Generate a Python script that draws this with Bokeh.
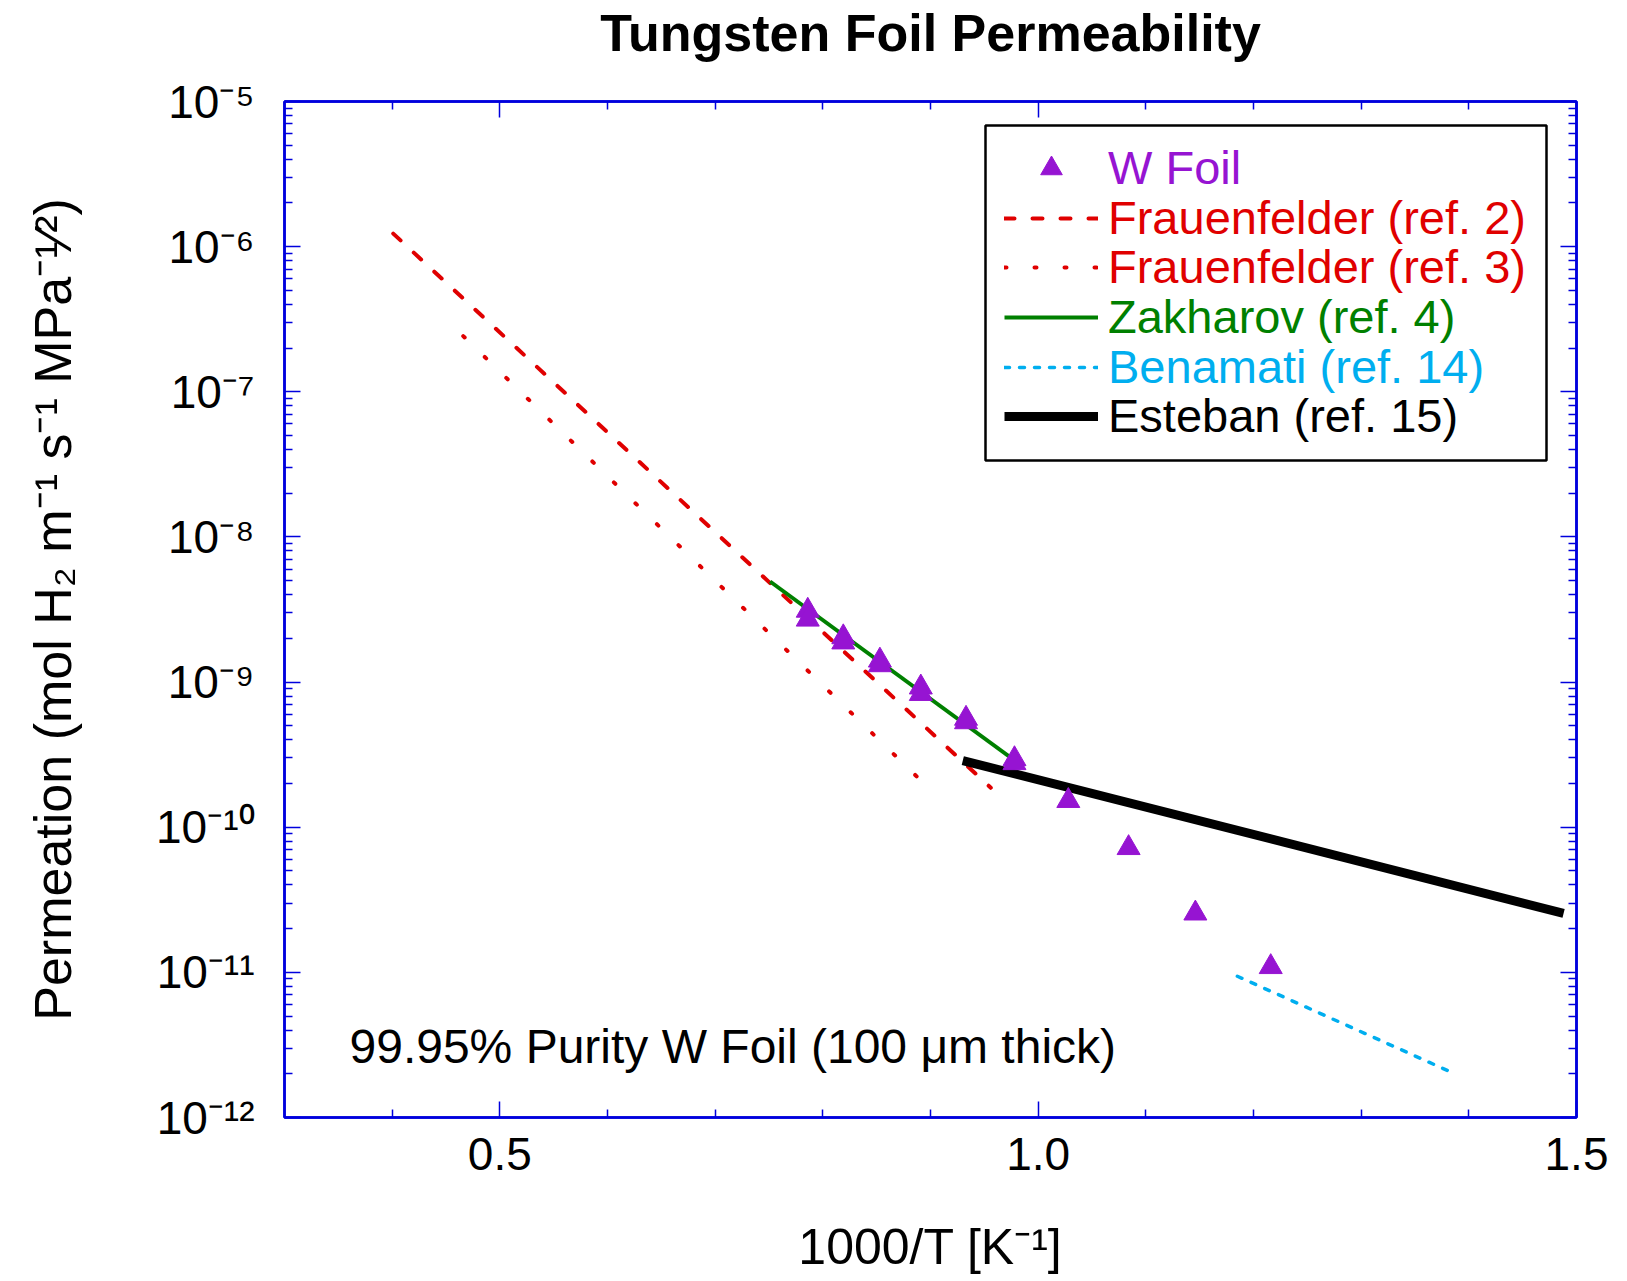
import math
from bokeh.plotting import figure
from bokeh.models import (Label, Legend, LegendItem, BoxAnnotation, FixedTicker,
                          LogAxis, LinearAxis, Range1d, CustomJSTickFormatter)
from bokeh.embed import file_html
from bokeh.resources import INLINE

# ---------------- data ----------------
wfoil_x = [0.786, 0.786, 0.819, 0.819, 0.853, 0.853, 0.891, 0.891, 0.933, 0.933,
           0.978, 0.978, 1.028, 1.084, 1.146, 1.216]
wfoil_y = [3.11e-9, 2.70e-9, 2.04e-9, 1.88e-9, 1.41e-9, 1.31e-9, 9.2e-10, 8.3e-10,
           5.6e-10, 5.3e-10, 2.95e-10, 2.77e-10, 1.52e-10, 7.2e-11, 2.55e-11, 1.09e-11]

frauen2_x = [0.401, 0.956]
frauen2_y = [1.23e-6, 1.87e-10]
frauen3_x = [0.466, 0.902]
frauen3_y = [2.42e-7, 1.75e-10]
zakharov_x = [0.751, 0.982]
zakharov_y = [4.93e-9, 2.75e-10]
benamati_x = [1.185, 1.387]
benamati_y = [9.4e-12, 2.0e-12]
esteban_x = [0.930, 1.488]
esteban_y = [2.88e-10, 2.55e-11]

x_major = [0.5, 1.0, 1.5]
x_major_labels = ["0.5", "1.0", "1.5"]
x_minor = [0.4, 0.6, 0.7, 0.8, 0.9, 1.1, 1.2, 1.3, 1.4]
y_major = [1e-12, 1e-11, 1e-10, 1e-9, 1e-8, 1e-7, 1e-6, 1e-5]
y_major_labels = ["10\u207b\u00b9\u00b2", "10\u207b\u00b9\u00b9", "10\u207b\u00b9\u2070",
                  "10\u207b\u2079", "10\u207b\u2078", "10\u207b\u2077", "10\u207b\u2076",
                  "10\u207b\u2075"]
y_minor = [m * d for d in y_major[:-1] for m in range(2, 10)]

title_text = "Tungsten Foil Permeability"
x_title = "1000/T [K\u207b\u00b9]"
y_title = "Permeation (mol H\u2082 m\u207b\u00b9 s\u207b\u00b9 MPa\u207b\u00b9\u2044\u00b2)"
note_text = "99.95% Purity W Foil (100 \u03bcm thick)"
legend_labels = ["W Foil", "Frauenfelder (ref. 2)", "Frauenfelder (ref. 3)",
                 "Zakharov (ref. 4)", "Benamati (ref. 14)", "Esteban (ref. 15)"]

# ---------------- layout ----------------
X0, X1 = 0.3, 1.5
E0, E1 = -12, -5
FW, FH = 1292, 1016
BL, BT, BR, BB = 284, 100, 40, 162
FL, FT = BL, BT
PXU = FW / (X1 - X0)
PXD = FH / (E1 - E0)

def dx(px):
    return X0 + (px - FL) / PXU

def dy(py):
    return 10 ** (E1 - (py - FT) / PXD)

FONT = "Liberation Sans"
BLUE = "#0000dd"
RED = "#e00000"
GREEN = "#008000"
CYAN = "#00aeef"
PURPLE = "#9614d2"

p = figure(x_range=Range1d(X0, X1), y_range=Range1d(y_major[0], y_major[-1]), y_axis_type="log",
           frame_width=FW, frame_height=FH, min_border_left=BL, min_border_right=BR,
           min_border_top=BT, min_border_bottom=BB, output_backend="svg",
           toolbar_location=None, background_fill_color="white", border_fill_color="white")
p.title = None
p.grid.visible = False
p.outline_line_color = BLUE
p.outline_line_width = 2.5

xt = FixedTicker(ticks=x_major, minor_ticks=x_minor)
yt = FixedTicker(ticks=y_major, minor_ticks=y_minor)

bottom_ax = p.below[0]
left_ax = p.left[0]
top_ax = LinearAxis()
right_ax = LogAxis()
p.add_layout(top_ax, "above")
p.add_layout(right_ax, "right")
blank = CustomJSTickFormatter(code="return '';")
for ax in (top_ax, right_ax):
    ax.formatter = blank
    ax.major_label_text_font_size = "1px"
bottom_ax.ticker = xt
top_ax.ticker = xt
left_ax.ticker = yt
right_ax.ticker = yt

for ax in (bottom_ax, left_ax, top_ax, right_ax):
    ax.axis_line_color = BLUE
    ax.axis_line_width = 2.5
    ax.major_tick_line_color = BLUE
    ax.minor_tick_line_color = BLUE
    ax.major_tick_line_width = 1.5
    ax.minor_tick_line_width = 1.5
    ax.major_tick_in = 16
    ax.major_tick_out = 0
    ax.minor_tick_in = 8
    ax.minor_tick_out = 0
    ax.major_label_standoff = 0
    ax.major_label_text_font = FONT
    ax.major_label_text_color = "black"
    ax.axis_label_text_font = FONT
    ax.axis_label_text_font_style = "normal"
    ax.axis_label_text_color = "black"

bottom_ax.major_label_overrides = dict(zip(x_major, x_major_labels))
bottom_ax.major_label_text_font_size = "46px"
bottom_ax.major_label_standoff = 20
bottom_ax.axis_label = x_title
bottom_ax.axis_label_text_font_size = "50px"
bottom_ax.axis_label_standoff = 46

left_ax.major_label_overrides = dict(zip(y_major, y_major_labels))
left_ax.major_label_text_font_size = "46px"
left_ax.major_label_standoff = 30
left_ax.axis_label = y_title
left_ax.axis_label_text_font_size = "52px"
left_ax.axis_label_standoff = 71

# chart title, carried by the top frame axis so it can sit close to the canvas edge
top_ax.axis_label = title_text
top_ax.axis_label_text_font_size = "52px"
top_ax.axis_label_text_font_style = "bold"
top_ax.axis_label_standoff = 40

# ---------------- series ----------------
r_f2 = p.line(frauen2_x, frauen2_y, line_color=RED, line_width=4, line_dash="10 18", line_cap="round")
r_f3 = p.line(frauen3_x, frauen3_y, line_color=RED, line_width=4, line_dash="2 28", line_cap="round")
r_z = p.line(zakharov_x, zakharov_y, line_color=GREEN, line_width=4)
r_b = p.line(benamati_x, benamati_y, line_color=CYAN, line_width=3.5, line_dash="5 10", line_cap="round")
r_e = p.line(esteban_x, esteban_y, line_color="black", line_width=9)
r_w = p.scatter(wfoil_x, wfoil_y, marker="triangle", size=23, fill_color=PURPLE,
                line_color=PURPLE, line_width=1)

# ---------------- legend ----------------
p.add_layout(BoxAnnotation(left=dx(985), right=dx(1546), top=dy(124), bottom=dy(459),
                           fill_color="white", fill_alpha=1.0, line_color="black",
                           line_alpha=1.0, line_width=2.5))
rows = [(legend_labels[0], r_w, PURPLE, 167),
        (legend_labels[1], r_f2, RED, 217),
        (legend_labels[2], r_f3, RED, 266),
        (legend_labels[3], r_z, GREEN, 316),
        (legend_labels[4], r_b, CYAN, 366),
        (legend_labels[5], r_e, "black", 415)]
ROWH = 54
for lab, rend, col, yc in rows:
    lg = Legend(items=[LegendItem(label=lab, renderers=[rend])],
                location=(1004 - FL, (FT + FH) - (yc + ROWH / 2)),
                padding=0, margin=0, spacing=0, glyph_width=94, glyph_height=ROWH,
                label_height=ROWH, label_standoff=10, label_text_font=FONT,
                label_text_font_size="47px", label_text_color=col,
                border_line_alpha=0, background_fill_alpha=0)
    p.add_layout(lg)

# annotation inside the frame
p.add_layout(Label(x=dx(349), y=dy(1044.5), text=note_text, text_font=FONT,
                   text_font_size="48px", text_align="left", text_baseline="alphabetic",
                   text_color="black"))

open("out.html", "w").write(file_html(p, INLINE))
